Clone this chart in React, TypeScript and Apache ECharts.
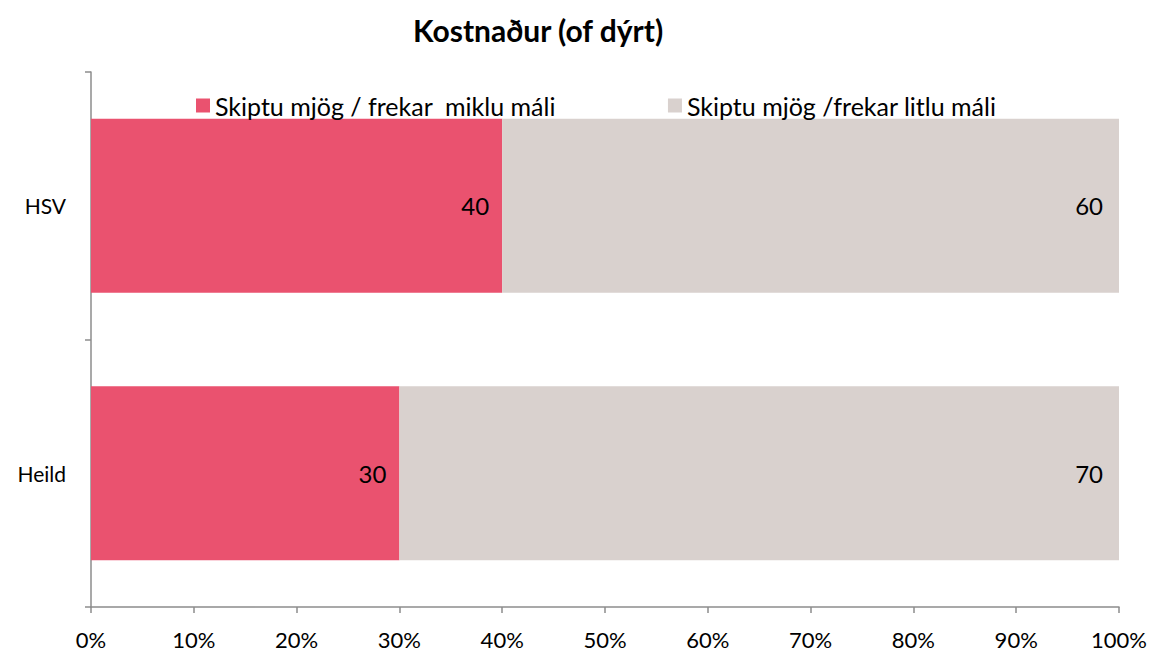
import React, { useEffect, useRef } from "react";
import * as echarts from "echarts";

const categories = ["Heild", "HSV"];
const seriesNames = ["Skiptu mjög / frekar  miklu máli", "Skiptu mjög /frekar litlu máli"];
const muchValues = [30, 40];
const littleValues = [70, 60];
const titleText = "Kostnaður (of dýrt)";

const FONT = "Lato, 'Noto Sans', sans-serif";

export default function App() {
  const ref = useRef<HTMLDivElement>(null);
  useEffect(() => {
    if (!ref.current) return;
    const chart = echarts.init(ref.current, null, { renderer: "svg" });
    chart.setOption({
      animation: false,
      backgroundColor: "#ffffff",
      textStyle: { fontFamily: FONT },
      title: {
        text: titleText,
        left: 413,
        top: 15,
        padding: 0,
        textStyle: { fontFamily: FONT, fontSize: 30, fontWeight: "bold", color: "#000" },
      },
      legend: {
        left: 196,
        top: 93,
        padding: 0,
        itemWidth: 14,
        itemHeight: 14,
        itemGap: 112,
        icon: "rect",
        data: seriesNames,
        textStyle: { fontFamily: FONT, fontSize: 25, color: "#000" },
      },
      grid: { left: 91, right: 33, top: 72, bottom: 45, containLabel: false },
      xAxis: {
        type: "value",
        min: 0,
        max: 100,
        interval: 10,
        axisLine: { show: true, lineStyle: { color: "#8c8c8c", width: 1.5 } },
        axisTick: { show: true, length: 6, lineStyle: { color: "#8c8c8c", width: 1.5 } },
        splitLine: { show: false },
        axisLabel: {
          formatter: "{value}%",
          fontSize: 22,
          color: "#000",
          fontFamily: FONT,
          margin: 21,
        },
      },
      yAxis: {
        type: "category",
        data: categories,
        axisLine: { show: true, lineStyle: { color: "#8c8c8c", width: 1.5 } },
        axisTick: { show: true, length: 6, lineStyle: { color: "#8c8c8c", width: 1.5 } },
        axisLabel: { fontSize: 21, color: "#000", fontFamily: FONT, margin: 25 },
      },
      series: [
        {
          name: seriesNames[0],
          type: "bar",
          stack: "total",
          barCategoryGap: "35%",
          data: muchValues,
          itemStyle: { color: "#EA526F" },
          label: { show: true, position: "insideRight", fontSize: 24, color: "#000", fontFamily: FONT, distance: 13 },
        },
        {
          name: seriesNames[1],
          type: "bar",
          stack: "total",
          barCategoryGap: "35%",
          data: littleValues,
          itemStyle: { color: "#D9D1CE" },
          label: { show: true, position: "insideRight", fontSize: 24, color: "#000", fontFamily: FONT, distance: 16 },
        },
      ],
    });
    return () => chart.dispose();
  }, []);
  return (
    <div
      ref={ref}
      style={{ position: "fixed", left: 0, top: 0, width: 1152, height: 652 }}
    />
  );
}
